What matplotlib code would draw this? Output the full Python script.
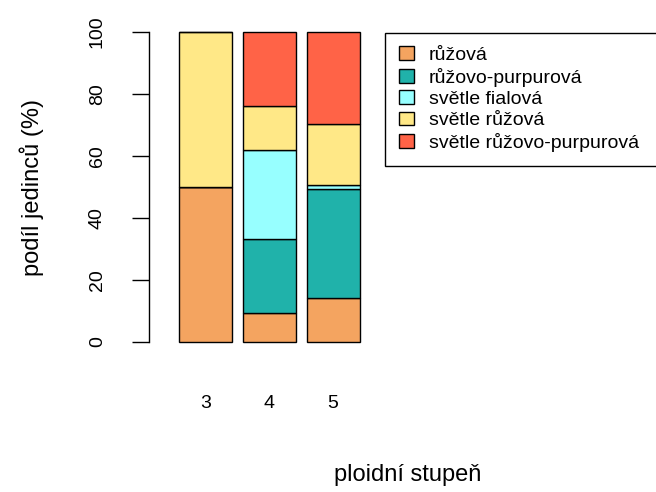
import numpy as np
import matplotlib
matplotlib.use("Agg")
import matplotlib.pyplot as plt
from matplotlib.patches import Patch

plt.rcParams['font.family'] = ['Liberation Sans', 'DejaVu Sans']

# data: share of individuals (%) per flower colour, by ploidy level
ploidy = ["3", "4", "5"]
colours = ["růžová", "růžovo-purpurová", "světle fialová", "světle růžová", "světle růžovo-purpurová"]
fill = ["#F4A460", "#20B2AA", "#97FFFF", "#FFE887", "#FF6347"]

ruzova = [50.0, 9.5, 14.1]
ruzovo_purpurova = [0.0, 23.8, 35.2]
svetle_fialova = [0.0, 28.6, 1.4]
svetle_ruzova = [50.0, 14.3, 19.7]
svetle_ruzovo_purpurova = [0.0, 23.8, 29.6]

shares = [ruzova, ruzovo_purpurova, svetle_fialova, svetle_ruzova, svetle_ruzovo_purpurova]

fig = plt.figure(figsize=(6.56, 4.92), dpi=100)
ax = fig.add_axes([149 / 656, 137.6 / 492, 491 / 656, 334.8 / 492])

x = np.array([0.7, 1.9, 3.1])
bottom = np.zeros(3)
for vals, col in zip(shares, fill):
    ax.bar(x, vals, width=1.0, bottom=bottom, color=col, edgecolor="black", linewidth=1.0)
    bottom += np.array(vals)

ax.set_xlim(-0.372, 8.892)
ax.set_ylim(-4, 104)

for s in ["top", "right", "bottom"]:
    ax.spines[s].set_visible(False)
ax.spines["left"].set_bounds(0, 100)
ax.spines["left"].set_linewidth(1.0)

ax.set_yticks([0, 20, 40, 60, 80, 100])
ax.set_yticklabels(["0", "20", "40", "60", "80", "100"], rotation=90, va="center")
ax.tick_params(axis="y", length=12, width=1.0, pad=19, labelsize=14)
ax.set_xticks(x)
ax.set_xticklabels(ploidy)
ax.tick_params(axis="x", length=0, pad=29, labelsize=14)

fig.text(32 / 656, 1 - 187 / 492, "podíl jedinců (%)", rotation=90, ha="center", va="center", fontsize=17)
fig.text(408 / 656, 1 - 475 / 492, "ploidní stupeň", ha="center", va="center", fontsize=17)

handles = [Patch(facecolor=c, edgecolor="black", linewidth=1.0) for c in fill]
leg = fig.legend(handles, colours, loc="upper left", mode="expand",
                 bbox_to_anchor=(385 / 656, 1 - 32.5 / 492, 300 / 656, 0),
                 fontsize=14, frameon=True, fancybox=False, framealpha=1,
                 edgecolor="black", borderpad=0.72, labelspacing=0.19,
                 handlelength=0.77, handleheight=0.7, handletextpad=0.77, borderaxespad=0)
leg.get_frame().set_linewidth(1.0)

plt.savefig("out.png", dpi=100)
